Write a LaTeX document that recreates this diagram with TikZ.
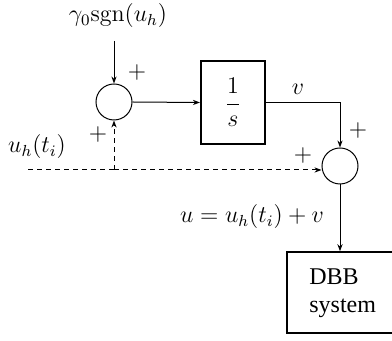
\documentclass[tikz,border=0pt]{standalone}
\usepackage[no-math]{fontspec}
\setmainfont{Liberation Serif}
\usetikzlibrary{arrows.meta}
\begin{document}
\begin{tikzpicture}[x=0.5pt,y=-0.5pt,
  font=\fontsize{12}{14}\selectfont,
  sumnode/.style={circle,draw,line width=0.5pt,minimum size=18pt,inner sep=0pt},
  conn/.style={line width=0.5pt,-{Stealth[length=3.5pt,width=2.6pt]}},
  dashconn/.style={conn,dash pattern=on 2.5pt off 2pt},
  plain/.style={line width=0.5pt},
  lbl/.style={inner sep=0pt}]
\useasboundingbox (0,0) rectangle (392,341);
\clip (0,0) rectangle (392,341);
% nodes
\node[sumnode] (s1) at (114,102) {};
\node[draw,line width=1.1pt,minimum width=32pt,minimum height=41.5pt,inner sep=0pt] (int) at (233,102.5) {$\displaystyle\frac{1}{s}$};
\node[sumnode] (s2) at (340,166) {};
\node[draw,line width=0.8pt,minimum width=55pt,minimum height=40.5pt,inner sep=0pt] (dbb) at (342,292.5) {};
\node[lbl,align=left,anchor=west] (dbbt) at (309,293) {DBB\\system};
\node[lbl] (gam) at (118,16) {$\gamma_0\mathrm{sgn}(u_h)$};
\coordinate (gtop) at (114,41);
\node[lbl] (uh) at (37,147) {$u_h(t_i)$};
\coordinate (dstart) at (28,170);
\coordinate (branch) at (114,170);
\coordinate (corner) at (340,102.5);
\node[lbl] (v) at (298,89) {$v$};
\node[lbl] (p1) at (137,73) {$+$};
\node[lbl] (p2) at (98,135) {$+$};
\node[lbl] (p3) at (358,131) {$+$};
\node[lbl] (p4) at (303,156) {$+$};
\node[lbl] (ueq) at (252,217) {$u=u_h(t_i)+v$};
% connectors
\draw[conn] (gtop) -- (s1.north);
\draw[conn] (s1.east) -- (int.west);
\draw[plain] (int.east |- corner) -- (corner);
\draw[conn] (corner) -- (s2.north);
\draw[dash pattern=on 2.5pt off 2pt,line width=0.5pt] (dstart) -- (branch);
\draw[dashconn] (branch) -- (s1.south);
\draw[dashconn] (branch) -- (s2.west |- branch);
\draw[conn] (s2.south) -- (dbb.north -| s2.south);
\end{tikzpicture}
\end{document}
